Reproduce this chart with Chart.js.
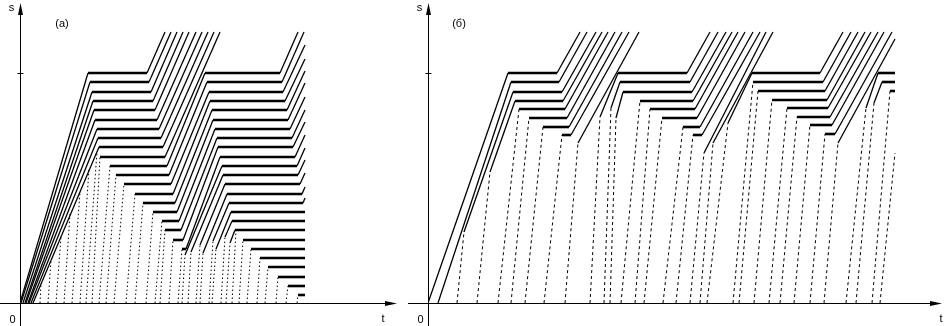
<!DOCTYPE html>
<html lang="ru">
<head>
<meta charset="UTF-8">
<title>Траектории</title>
<script src="https://cdn.jsdelivr.net/npm/chart.js"></script>
<style>
  body { margin: 0; background: #fff; }
  canvas { position: absolute; top: 0; }
</style>
</head>
<body>
<canvas id="chartA" width="400" height="326" style="left:0"></canvas>
<canvas id="chartB" width="545" height="326" style="left:400px"></canvas>
<script>
// подписи
const panelTitles = ['(а)', '(б)'];
const axisNames = ['t', 's'];
const originLabel = '0';
const stopLineTick = [230];

// (а) траектории, точки [t, s]
const platoonA = [
  [[0,0],[68,230],[127,230],[145,271]],
  [[1,0],[70,221],[129,221],[151,271]],
  [[3,0],[72,211],[131,211],[157,271]],
  [[5,0],[73,202],[133,202],[163,271]],
  [[6,0],[74,193],[135,193],[169,271]],
  [[8,0],[75,183],[137,183],[176,271]],
  [[9,0],[77,174],[139,174],[182,271]],
  [[11,0],[78,165],[141,165],[188,271]],
  [[13,0],[79,156],[143,156],[194,271]],
  [[72,0],[80,146],[145,146],[200,271]]
];
const queue1A = [
  [[79,0],[90,137],[147,137],[185,230],[260,230],[278,271]],
  [[86,0],[96,128],[149,128],[187,221],[262,221],[284,271]],
  [[94,0],[104,119],[151,119],[189,211],[263,211],[285,258]],
  [[106,0],[115,109],[153,109],[190,202],[265,202],[285,244]],
  [[115,0],[123,100],[155,100],[192,193],[267,193],[285,232]],
  [[126,0],[133,91],[157,91],[193,183],[268,183],[285,220]],
  [[135,0],[142,82],[159,82],[195,174],[270,174],[285,206]],
  [[140,0],[145,73],[161,73],[197,165],[272,165],[285,193]],
  [[149,0],[153,63],[163,63],[198,156],[273,156],[285,181]],
  [[158,0],[162,54],[166,54],[200,146],[275,146],[285,168]]
];
const queue2A = [
  [[162,0],[165,48],[202,137],[277,137],[285,155]],
  [[168,0],[171,51],[203,128],[278,128],[285,143]],
  [[176,0],[180,58],[205,119],[280,119],[285,130]],
  [[180,0],[183,50],[207,109],[282,109],[285,116]],
  [[189,0],[193,62],[209,100],[283,100],[285,105]],
  [[192,0],[196,54],[211,91],[285,91]],
  [[201,0],[205,66],[212,82],[285,82]],
  [[206,0],[210,60],[215,73],[285,73]]
];
const tailA = [
  [[219,0],[223,63],[285,63]],
  [[227,0],[231,54],[285,54]],
  [[237,0],[240,45],[285,45]],
  [[245,0],[248,36],[285,36]],
  [[256,0],[258,26],[285,26]],
  [[266,0],[268,17],[285,17]],
  [[277,0],[278,8],[285,8]]
];
const mergingA = [
  [[20,0],[21,20]],
  [[28,0],[31,43]],
  [[36,0],[41,66]],
  [[44,0],[50,89]],
  [[52,0],[60,111]],
  [[60,0],[69,134]],
  [[66,0],[77,151]],
  [[212,0],[216,72]]
];

// (б) траектории
const platoonB = [
  [[0,0],[80,230],[129,230],[152,271]],
  [[10,0],[83,221],[131,221],[159,271]],
  [[29,0],[36,71],[85,211],[134,211],[168,271]],
  [[49,0],[62,131],[87,202],[135,202],[174,271]],
  [[70,0],[91,194],[137,194],[180,271]],
  [[83,0],[101,185],[139,185],[187,271]],
  [[97,0],[115,176],[141,176],[194,271]],
  [[116,0],[134,168],[143,168],[201,271]],
  [[137,0],[150,160],[211,271]]
];
const cycle2B = [
  [[162,0],[172,186],[190,230],[259,230],[282,271]],
  [[176,0],[183,195],[192,221],[262,221],[290,271]],
  [[182,0],[188,185],[195,211],[264,211],[298,271]],
  [[193,0],[212,202],[265,202],[304,271]],
  [[207,0],[222,194],[267,194],[310,271]],
  [[216,0],[234,185],[269,185],[317,271]],
  [[235,0],[255,176],[272,176],[325,271]],
  [[248,0],[265,168],[274,168],[332,271]],
  [[262,0],[276,150],[338,271]],
  [[272,0],[285,160],[345,271]]
];
const cycle3B = [
  [[279,0],[300,180],[324,230],[392,230],[415,271]],
  [[305,0],[325,221],[395,221],[423,271]],
  [[311,0],[330,212],[397,212],[430,271]],
  [[326,0],[344,203],[399,203],[437,271]],
  [[341,0],[359,195],[400,195],[443,271]],
  [[352,0],[369,186],[402,186],[450,271]],
  [[366,0],[382,178],[404,178],[456,271]],
  [[382,0],[397,169],[407,169],[464,271]],
  [[396,0],[410,160],[467,264]]
];
const cycle4B = [
  [[418,0],[438,195],[450,230],[467,230]],
  [[428,0],[446,200],[454,221],[467,221]],
  [[444,0],[462,212],[467,212]],
  [[452,0],[467,150]]
];

// оси со стрелками и подписи
const arrowAxes = {
  id: 'arrowAxes',
  afterDraw(chart, args, o) {
    const ctx = chart.ctx;
    const xs = chart.scales.x, ys = chart.scales.y;
    const x0 = Math.round(xs.getPixelForValue(0)) + 0.5;
    const y0 = Math.round(ys.getPixelForValue(0)) + 0.5;
    const xEnd = xs.getPixelForValue(xs.max);
    const yTop = ys.getPixelForValue(ys.max);
    ctx.save();
    ctx.strokeStyle = '#000';
    ctx.fillStyle = '#000';
    ctx.lineWidth = 1;
    ctx.beginPath();
    ctx.moveTo(o.axisFrom, y0);
    ctx.lineTo(xEnd - 6, y0);
    ctx.moveTo(x0, chart.height);
    ctx.lineTo(x0, yTop + 6);
    stopLineTick.forEach(v => {
      const yt = Math.round(ys.getPixelForValue(v)) + 0.5;
      ctx.moveTo(x0 - 3, yt);
      ctx.lineTo(x0 + 3, yt);
    });
    ctx.stroke();
    ctx.beginPath();
    ctx.moveTo(xEnd, y0);
    ctx.lineTo(xEnd - 12, y0 - 2.5);
    ctx.lineTo(xEnd - 12, y0 + 2.5);
    ctx.closePath();
    ctx.moveTo(x0, yTop);
    ctx.lineTo(x0 - 2.5, yTop + 12);
    ctx.lineTo(x0 + 2.5, yTop + 12);
    ctx.closePath();
    ctx.fill();
    ctx.font = '11px "Liberation Sans", Arial, sans-serif';
    ctx.textAlign = 'center';
    ctx.textBaseline = 'middle';
    ctx.fillText(axisNames[1], x0 - 9, yTop + 5);
    ctx.fillText(originLabel, x0 - 8, y0 + 16);
    ctx.fillText(axisNames[0], o.tX, y0 + 15);
    ctx.fillText(o.title, o.titleX, 24);
    ctx.restore();
  }
};

function isSteep(c) {
  const dx = Math.abs(c.p1.x - c.p0.x), dy = Math.abs(c.p1.y - c.p0.y);
  return dy > 0.01 && dx / dy < 0.2;
}

function makeChart(id, groups, dash, xMax, padLeft, axisOpts) {
  const datasets = groups.flat().map(path => ({
    data: path.map(([t, s]) => ({ x: t, y: s })),
    borderColor: '#000',
    borderWidth: 1.3,
    borderCapStyle: 'butt',
    pointRadius: 0,
    pointHoverRadius: 0,
    fill: false,
    tension: 0,
    segment: {
      // стоянка - толстая линия, быстрый подъезд - пунктир
      borderWidth: c => Math.abs(c.p1.y - c.p0.y) < 0.01 ? 2.6 : (isSteep(c) ? 1 : 1.3),
      borderDash: c => isSteep(c) ? dash : undefined
    }
  }));
  return new Chart(document.getElementById(id), {
    type: 'line',
    data: { datasets },
    options: {
      responsive: false,
      animation: false,
      events: [],
      layout: { padding: { left: padLeft, right: 3, top: 3, bottom: 23 } },
      scales: {
        x: { type: 'linear', min: 0, max: xMax, display: false },
        y: { type: 'linear', min: 0, max: 300, display: false }
      },
      plugins: {
        legend: { display: false },
        tooltip: { enabled: false },
        arrowAxes: axisOpts
      }
    },
    plugins: [arrowAxes]
  });
}

makeChart('chartA', [platoonA, queue1A, queue2A, tailA, mergingA], [1.5, 2.5], 377, 20,
  { axisFrom: 0, tX: 383, title: panelTitles[0], titleX: 62 });
makeChart('chartB', [platoonB, cycle2B, cycle3B, cycle4B], [3, 3], 514, 28,
  { axisFrom: 8, tX: 541, title: panelTitles[1], titleX: 59 });
</script>
</body>
</html>
